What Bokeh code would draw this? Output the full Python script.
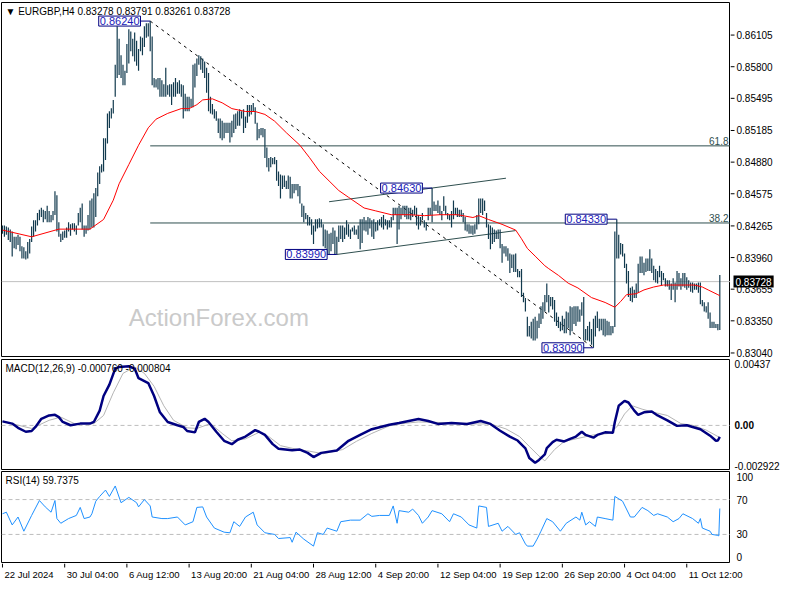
import numpy as np
from bokeh.plotting import figure
from bokeh.layouts import column, row
from bokeh.models import Range1d, Label, Span
from bokeh.embed import file_html
from bokeh.resources import INLINE
from bokeh.core.properties import value

# ---------------- data (prices in pips, 1 pip = 0.0001) ----------------
high_pips = [
    8427, 8427, 8426, 8425, 8423, 8421, 8416, 8416, 8418, 8416,
    8407, 8406, 8402, 8411, 8414, 8426, 8432, 8432, 8439, 8442,
    8444, 8442, 8441, 8446, 8441, 8437, 8441, 8460, 8456, 8430,
    8419, 8421, 8422, 8425, 8430, 8428, 8429, 8429, 8427, 8439,
    8444, 8448, 8427, 8427, 8437, 8451, 8453, 8458, 8463, 8478,
    8484, 8486, 8511, 8511, 8535, 8537, 8540, 8548, 8582, 8619,
    8607, 8591, 8582, 8576, 8602, 8616, 8614, 8607, 8613, 8605,
    8597, 8609, 8608, 8619, 8622, 8622, 8624, 8609, 8569, 8568,
    8569, 8569, 8567, 8563, 8579, 8562, 8563, 8563, 8565, 8569,
    8565, 8567, 8563, 8562, 8554, 8551, 8551, 8549, 8582, 8583,
    8588, 8591, 8590, 8588, 8585, 8579, 8574, 8551, 8544, 8539,
    8537, 8530, 8530, 8528, 8526, 8526, 8526, 8526, 8528, 8534,
    8535, 8537, 8539, 8537, 8539, 8532, 8543, 8543, 8543, 8545,
    8541, 8526, 8520, 8521, 8521, 8520, 8502, 8492, 8493, 8492,
    8493, 8490, 8479, 8476, 8475, 8475, 8470, 8475, 8474, 8467,
    8467, 8467, 8467, 8465, 8448, 8446, 8439, 8437, 8435, 8433,
    8427, 8433, 8433, 8434, 8433, 8428, 8423, 8422, 8419, 8420,
    8425, 8422, 8416, 8427, 8427, 8427, 8425, 8432, 8428, 8423,
    8425, 8427, 8423, 8427, 8433, 8433, 8435, 8432, 8435, 8434,
    8432, 8433, 8430, 8432, 8433, 8435, 8437, 8433, 8432, 8432,
    8435, 8444, 8444, 8444, 8446, 8444, 8446, 8446, 8446, 8444,
    8444, 8442, 8446, 8444, 8437, 8435, 8439, 8432, 8430, 8444,
    8444, 8463, 8450, 8447, 8451, 8446, 8441, 8455, 8446, 8439,
    8437, 8441, 8451, 8444, 8444, 8442, 8442, 8439, 8435, 8428,
    8428, 8427, 8427, 8428, 8437, 8453, 8453, 8453, 8451, 8439,
    8428, 8427, 8425, 8423, 8422, 8423, 8423, 8409, 8407, 8407,
    8405, 8400, 8399, 8399, 8400, 8385, 8383, 8385, 8362, 8357,
    8339, 8330, 8334, 8337, 8339, 8335, 8342, 8349, 8353, 8360,
    8371, 8360, 8358, 8358, 8355, 8343, 8339, 8334, 8340, 8337,
    8344, 8343, 8349, 8348, 8349, 8349, 8349, 8346, 8353, 8358,
    8327, 8330, 8334, 8327, 8337, 8340, 8344, 8337, 8337, 8337,
    8337, 8335, 8334, 8330, 8330, 8421, 8433, 8418, 8410, 8409,
    8400, 8390, 8383, 8367, 8368, 8365, 8371, 8390, 8397, 8397,
    8391, 8395, 8395, 8404, 8395, 8388, 8385, 8383, 8388, 8383,
    8381, 8376, 8374, 8374, 8371, 8376, 8372, 8383, 8381, 8376,
    8381, 8381, 8377, 8374, 8372, 8372, 8371, 8371, 8372, 8372,
    8355, 8353, 8349, 8353, 8343, 8334, 8334, 8332, 8332, 8379.1,
]
low_pips = [
    8419, 8416, 8418, 8413, 8411, 8397, 8405, 8404, 8408, 8402,
    8395, 8395, 8394, 8395, 8400, 8411, 8416, 8421, 8427, 8432,
    8435, 8430, 8433, 8430, 8430, 8430, 8432, 8437, 8421, 8416,
    8411, 8413, 8415, 8415, 8421, 8417, 8423, 8421, 8418, 8427,
    8430, 8423, 8416, 8419, 8422, 8423, 8425, 8425, 8435, 8455,
    8467, 8478, 8479, 8490, 8506, 8521, 8530, 8535, 8551, 8569,
    8572, 8569, 8562, 8562, 8574, 8583, 8595, 8590, 8585, 8581,
    8576, 8595, 8591, 8599, 8608, 8609, 8595, 8562, 8560, 8560,
    8558, 8551, 8551, 8551, 8551, 8553, 8551, 8543, 8551, 8551,
    8554, 8554, 8551, 8530, 8537, 8537, 8537, 8541, 8541, 8560,
    8571, 8582, 8577, 8574, 8569, 8555, 8537, 8535, 8534, 8530,
    8528, 8516, 8511, 8509, 8511, 8516, 8516, 8507, 8512, 8516,
    8520, 8523, 8523, 8530, 8516, 8521, 8526, 8532, 8534, 8537,
    8525, 8509, 8511, 8514, 8512, 8492, 8483, 8479, 8483, 8486,
    8486, 8470, 8465, 8453, 8462, 8464, 8462, 8462, 8453, 8453,
    8458, 8461, 8455, 8448, 8435, 8430, 8433, 8427, 8427, 8418,
    8409, 8421, 8424, 8425, 8425, 8407, 8405, 8399, 8399, 8402,
    8409, 8399, 8399, 8411, 8414, 8411, 8414, 8418, 8416, 8414,
    8421, 8418, 8418, 8414, 8404, 8410, 8422, 8421, 8418, 8424,
    8416, 8414, 8421, 8422, 8427, 8425, 8423, 8427, 8423, 8425,
    8425, 8432, 8437, 8409, 8423, 8433, 8437, 8435, 8433, 8433,
    8432, 8435, 8437, 8427, 8423, 8427, 8432, 8425, 8422, 8432,
    8437, 8430, 8441, 8441, 8439, 8437, 8432, 8441, 8437, 8433,
    8432, 8425, 8433, 8437, 8435, 8435, 8435, 8430, 8422, 8421,
    8419, 8419, 8418, 8419, 8423, 8428, 8439, 8437, 8441, 8425,
    8414, 8404, 8409, 8411, 8414, 8414, 8405, 8391, 8400, 8397,
    8393, 8381, 8386, 8382, 8382, 8377, 8377, 8358, 8353, 8344,
    8320, 8320, 8318, 8316, 8316, 8318, 8328, 8332, 8337, 8344,
    8353, 8343, 8349, 8346, 8334, 8330, 8328, 8325, 8326, 8323,
    8323, 8328, 8321, 8325, 8332, 8330, 8334, 8334, 8340, 8316,
    8316, 8316, 8315, 8312, 8309, 8320, 8328, 8325, 8326, 8321,
    8320, 8321, 8321, 8321, 8323, 8329, 8395, 8395, 8399, 8397,
    8386, 8371, 8358, 8354, 8353, 8357, 8357, 8362, 8381, 8381,
    8379, 8382, 8383, 8383, 8381, 8374, 8372, 8371, 8377, 8369,
    8374, 8368, 8368, 8365, 8355, 8365, 8353, 8365, 8368, 8365,
    8368, 8367, 8365, 8367, 8363, 8362, 8365, 8365, 8362, 8351,
    8349, 8344, 8343, 8337, 8328, 8328, 8328, 8328, 8326, 8326.1,
]
last_ohlc = [0.83278, 0.83791, 0.83261, 0.83728]

ma_bar = [0, 15, 29, 45, 52, 57, 60, 65, 70, 75, 79, 85, 92, 96, 100, 103, 108, 113,
          118, 125, 130, 135, 140, 146, 153, 158, 163, 168, 173, 178, 186, 192, 200,
          209, 217, 225, 234, 242, 245, 250, 257, 264, 267, 270, 274, 279, 281, 286,
          291, 296, 303, 310, 315, 318, 321, 326, 330, 335, 340, 348, 356, 360, 363,
          368, 369]
ma_pips = [8422.5, 8416, 8423.4, 8423.4, 8432.7, 8451.3, 8467.1, 8485.7, 8504.3,
           8521.1, 8529.4, 8535, 8539.6, 8539.6, 8543.4, 8548, 8549, 8545.2, 8539.6,
           8536.8, 8536.8, 8534, 8527.5, 8516.4, 8504.3, 8492.2, 8479.2, 8469.9,
           8460.6, 8454.1, 8443.8, 8441, 8437.3, 8437.3, 8436.4, 8437.3, 8437.3,
           8434.6, 8436.4, 8432.7, 8428, 8422.5, 8414.1, 8404.8, 8397.4, 8388.1,
           8385.3, 8378.8, 8371.3, 8366.7, 8357.4, 8352.7, 8348.1, 8353.6, 8360.2,
           8361.1, 8364.8, 8367.6, 8369.5, 8369.5, 8369.5, 8367.6, 8364.8, 8360.2,
           8359.2]

macd_bar = [0, 5, 8, 12, 15, 17, 20, 24, 27, 29, 31, 35, 40, 45, 47, 50, 52, 55, 58,
            60, 65, 68, 70, 75, 78, 81, 85, 90, 93, 95, 99, 101, 104, 106, 110, 114,
            118, 121, 125, 130, 132, 135, 139, 142, 149, 153, 157, 160, 164, 172, 178,
            184, 190, 199, 204, 209, 214, 219, 224, 231, 239, 246, 251, 256, 261, 265,
            269, 271, 274, 276, 279, 280, 283, 285, 289, 292, 295, 298, 300, 304, 306,
            310, 314, 315, 317, 320, 322, 325, 327, 330, 334, 337, 342, 347, 352, 355,
            359, 364, 367, 368, 369]
macd_val = [0.00027, 0.00012, -0.00016, -0.00042, -0.00037, -0.0001, 0.00044, 0.00066,
            0.0007, 0.00055, 0.00023, 0.00001, 0.00012, 0.00012, 0.00023, 0.00098,
            0.00195, 0.0027, 0.00377, 0.00388, 0.00392, 0.00377, 0.00313, 0.00281,
            0.00195, 0.00087, 0.00023, 0.00001, -0.0001, -0.00037, -0.00046, 0.00023,
            0.00044, 0.00023, -0.00042, -0.00102, -0.00124, -0.00095, -0.00074,
            -0.00031, -0.00042, -0.00063, -0.00124, -0.00154, -0.00164, -0.0016,
            -0.00182, -0.0021, -0.00182, -0.00166, -0.00102, -0.00063, -0.00025,
            0.00005, 0.00016, 0.00029, 0.00042, 0.00029, 0.0001, 0.00016, 0.0001,
            0.00029, 0.0001, -0.00035, -0.00074, -0.001, -0.00152, -0.00216, -0.00248,
            -0.00229, -0.00192, -0.0015, -0.00111, -0.00095, -0.00106, -0.00089,
            -0.00074, -0.00042, -0.00063, -0.00081, -0.00063, -0.00046, -0.00048,
            0.00023, 0.0013, 0.00163, 0.00152, 0.00098, 0.0007, 0.00087, 0.00092,
            0.00066, 0.00034, -0.00003, 0.00001, -0.0001, -0.00025, -0.00068, -0.00102,
            -0.001, -0.00076]
signal_bar = [0, 15, 24, 30, 37, 47, 52, 57, 62, 68, 73, 78, 83, 88, 95, 100, 107, 113,
              118, 125, 132, 137, 143, 152, 158, 165, 175, 182, 190, 199, 204, 214, 224,
              234, 244, 251, 259, 266, 271, 276, 279, 284, 289, 295, 304, 312, 316, 320,
              324, 329, 335, 342, 349, 355, 362, 369]
signal_val = [0.00027, -0.0002, 0.00034, 0.00055, 0.00012, 0.00012, 0.00066, 0.00216,
              0.00345, 0.00388, 0.00345, 0.00259, 0.0013, 0.00034, -0.00016, -0.0002,
              0.00012, -0.00053, -0.00102, -0.00089, -0.00046, -0.00074, -0.00134,
              -0.0016, -0.00171, -0.00188, -0.0016, -0.00106, -0.00053, -0.00003, 0.0001,
              0.00023, 0.0002, 0.0001, 0.0001, 0.0001, -0.00023, -0.00074, -0.00139,
              -0.00203, -0.00235, -0.0016, -0.00106, -0.00089, -0.00063, -0.00053,
              -0.0001, 0.00076, 0.0013, 0.00108, 0.00087, 0.00066, 0.00012, 0.00001,
              -0.00031, -0.000804]
macd_last = [-0.000760, -0.000804]

rsi_bar = [0, 2, 5, 8, 11, 15, 19, 22, 25, 27, 28, 30, 34, 38, 40, 42, 45, 46, 48, 50,
           53, 55, 58, 61, 65, 69, 70, 73, 76, 77, 82, 85, 90, 94, 98, 100, 103, 105,
           109, 114, 117, 119, 122, 125, 129, 131, 135, 140, 142, 148, 149, 151, 155,
           160, 162, 165, 167, 172, 174, 179, 184, 188, 190, 194, 199, 201, 203, 204,
           209, 211, 214, 216, 219, 221, 226, 230, 232, 236, 240, 244, 245, 249, 250,
           255, 257, 260, 264, 266, 269, 270, 273, 275, 277, 280, 283, 287, 290, 295,
           297, 298, 300, 302, 305, 306, 310, 314, 315, 319, 323, 325, 329, 332, 335,
           337, 342, 345, 348, 350, 355, 358, 359, 360, 364, 365, 368, 368.5, 369]
rsi_val = [53.7, 55.5, 40.9, 50, 33.7, 51.8, 68.9, 61.6, 55.5, 68.9, 48.2, 42.8, 48.2,
           51.8, 61, 48.2, 50, 53.7, 68.1, 73.6, 80.9, 73.6, 85.6, 66.4, 72.5, 66.4,
           61.6, 70, 62.7, 50, 48.2, 48.2, 50, 40.9, 44.6, 61, 61.6, 50, 37.3, 32.6,
           31.9, 44.6, 39.2, 50, 55.5, 40.9, 31.9, 30, 25.3, 26.4, 21, 32.6, 24.6, 16.6,
           31.9, 30, 37.3, 33.7, 44.6, 46.4, 46.4, 53.7, 50.7, 51.8, 51.8, 62.7, 42.8,
           57.3, 55.5, 59.1, 51.8, 42.8, 50, 57.3, 53.7, 44.6, 53.7, 50, 40.9, 37.3,
           62.7, 61, 39.2, 42.8, 33.7, 39.2, 30, 31.9, 19.1, 16.6, 16.6, 24.6, 33.7,
           48.2, 44.6, 33.7, 42.8, 50, 46.4, 55.5, 40.9, 44.6, 39.2, 50, 48.2, 46.4,
           73.6, 68.1, 50, 50, 61, 57.3, 51.8, 53.7, 50, 44.6, 48.2, 53.7, 48.2, 42.8,
           48.2, 37.3, 33.7, 30, 28.9, 28.3, 59.7375]

pivot_bar = [76, 172, 221, 304, 316]
pivot_val = [0.86240, 0.83990, 0.84630, 0.83090, 0.84330]
fib_ratios = [61.8, 38.2]
channel_lower = [(172, 0.83990), (264, 0.84220)]
channel_upper = [(168, 0.84498), (259, 0.84725)]
price_ticks = [0.86105, 0.85800, 0.85495, 0.85185, 0.84880, 0.84575, 0.84265,
               0.83960, 0.83655, 0.83350, 0.83040]
macd_scale = [0.00437, 0.0, -0.002922]          # top, zero, bottom of the MACD window
macd_scale_labels = ["0.00437", "0.00", "-0.002922"]
rsi_ticks = [100, 70, 30, 0]
date_bar = [0, 32, 64, 96, 128, 160, 192, 224, 256, 288, 320, 352]
date_labels = ["22 Jul 2024", "30 Jul 04:00", "6 Aug 12:00", "13 Aug 20:00",
               "21 Aug 04:00", "28 Aug 12:00", "4 Sep 20:00", "12 Sep 04:00",
               "19 Sep 12:00", "26 Sep 20:00", "4 Oct 04:00", "11 Oct 12:00"]

# ---------------- derived ----------------
high = np.array(high_pips) / 10000.0
low = np.array(low_pips) / 10000.0
bars = np.arange(len(high))
ma = np.array(ma_pips) / 10000.0

FONT = "Liberation Sans"
BAR_C = "#123a4e"
SLATE = "#2f4f4f"
X0, X1 = -0.5, 374.5
xr = Range1d(X0, X1)
W_AX = 54
W_MAIN = 784 - W_AX
BL = 1
FRAME_W = W_MAIN - BL

P_LO, P_HI = 0.83006, 0.86419
M_LO, M_HI = -0.002922, 0.00437
R_LO, R_HI = -2.2, 102.2

H1, T1, B1 = 358, 2, 2
H2, T2, B2 = 112, 1, 1
H3, T3, B3 = 93, 1, 1


def make_fig(h, yr, top, bottom):
    p = figure(width=W_MAIN, height=h, x_range=xr, y_range=yr, output_backend="svg",
               toolbar_location=None, y_axis_location=None, x_axis_location=None,
               min_border_left=BL, min_border_right=0, min_border_top=top,
               min_border_bottom=bottom)
    p.grid.visible = False
    p.outline_line_color = "black"
    p.outline_line_width = 1
    p.background_fill_color = "white"
    p.border_fill_color = "white"
    return p


def scale_fig(h, lo, hi, top, bottom):
    # price-scale column: same vertical scale as its panel, frame covering the whole column
    frame_h = h - top - bottom
    per_px = (hi - lo) / frame_h
    a = figure(width=W_AX, height=h, x_range=Range1d(0, W_AX),
               y_range=Range1d(lo - bottom * per_px, hi + top * per_px),
               output_backend="svg", toolbar_location=None, x_axis_location=None,
               y_axis_location=None, min_border_left=0, min_border_right=0,
               min_border_top=0, min_border_bottom=0)
    a.grid.visible = False
    a.outline_line_color = None
    a.background_fill_color = "white"
    a.border_fill_color = "white"
    return a


def scale_label(a, x, y, text, baseline, style="normal"):
    a.add_layout(Label(x=x, y=y, text=text, text_align="left", text_baseline=baseline,
                       text_font=FONT, text_font_size="10px", text_color="black",
                       text_font_style=style))


# ---------------- main price panel ----------------
ph, pl = pivot_val[0], pivot_val[3]
p1 = make_fig(H1, Range1d(P_LO, P_HI), T1, B1)

p1.add_layout(Span(location=last_ohlc[3], dimension="width", line_color="#c0c0c0",
                   line_width=1, level="underlay"))

for r in fib_ratios:
    lvl = pl + r / 100.0 * (ph - pl)
    p1.segment(x0=[pivot_bar[0]], y0=[lvl], x1=[X1], y1=[lvl], line_color=SLATE, line_width=1)
    p1.add_layout(Label(x=X1, y=lvl, text=f"{r:.1f}", text_align="right",
                        text_baseline="bottom", x_offset=-2, y_offset=1,
                        text_font=FONT, text_font_size="10px", text_color=SLATE))

for seg in (channel_lower, channel_upper):
    p1.line([seg[0][0], seg[1][0]], [seg[0][1], seg[1][1]], line_color=SLATE, line_width=1)

p1.line([pivot_bar[0], pivot_bar[3]], [ph, pl], line_color="black", line_width=1,
        line_dash="3 4")

p1.segment(x0=bars, y0=low, x1=bars, y1=high, line_color=BAR_C, line_width=1.2)
p1.line(ma_bar, ma, line_color="#ff0000", line_width=1)

for b, v in zip(pivot_bar, pivot_val):
    p1.segment(x0=[b - 5], y0=[v], x1=[b], y1=[v], line_color="#000080", line_width=1)
    p1.add_layout(Label(x=b - 5, y=v, text=f"{v:.5f}", text_align="right",
                        text_baseline="middle", text_font=FONT, text_font_size="11px",
                        text_color="#2020b8", background_fill_color="white",
                        border_line_color="#000080", border_line_width=1, padding=1))

p1.add_layout(Label(x=X0, y=P_HI, x_offset=4, y_offset=-3, text_baseline="top",
                    text="\u25bc EURGBP,H4  " + " ".join(f"{v:.5f}" for v in last_ohlc),
                    text_font=FONT, text_font_size="10px", text_color="black"))
p1.add_layout(Label(x=65, y=0.83378, text="ActionForex.com", text_baseline="middle",
                    text_font=FONT, text_font_size="24px", text_color="#cacaca"))

a1 = scale_fig(H1, P_LO, P_HI, T1, B1)
a1.segment(x0=[0] * len(price_ticks), y0=price_ticks, x1=[4] * len(price_ticks),
           y1=price_ticks, line_color="black", line_width=1)
a1.text(x=[6] * len(price_ticks), y=price_ticks, text=[f"{t:.5f}" for t in price_ticks],
        text_align="left", text_baseline="middle", text_font=value(FONT),
        text_font_size="10px", text_color="black")
a1.add_layout(Label(x=1, y=last_ohlc[3], text=f"{last_ohlc[3]:.5f}", x_offset=2,
                    text_align="left", text_baseline="middle", text_font=FONT,
                    text_font_size="10px", text_color="white",
                    background_fill_color="black", padding=2))

# ---------------- MACD panel ----------------
p2 = make_fig(H2, Range1d(M_LO, M_HI), T2, B2)
p2.add_layout(Span(location=0.0, dimension="width", line_color="#bdbdbd",
                   line_dash="4 3", line_width=1, level="underlay"))
p2.line(signal_bar, signal_val, line_color="#b4b4b4", line_width=1)
p2.line(macd_bar, macd_val, line_color="#000080", line_width=2.5)
p2.add_layout(Label(x=X0, y=M_HI, x_offset=4, y_offset=-3, text_baseline="top",
                    text=f"MACD(12,26,9) {macd_last[0]:.6f} {macd_last[1]:.6f}",
                    text_font=FONT, text_font_size="10px", text_color="black"))

a2 = scale_fig(H2, M_LO, M_HI, T2, B2)
scale_label(a2, 4, macd_scale[0], macd_scale_labels[0], "top")
scale_label(a2, 4, macd_scale[1], macd_scale_labels[1], "middle", "bold")
scale_label(a2, 4, macd_scale[2], macd_scale_labels[2], "bottom")

# ---------------- RSI panel ----------------
p3 = make_fig(H3, Range1d(R_LO, R_HI), T3, B3)
for lv in rsi_ticks[1:3]:
    p3.add_layout(Span(location=lv, dimension="width", line_color="#bdbdbd",
                       line_dash="4 3", line_width=1, level="underlay"))
p3.line(rsi_bar, rsi_val, line_color="#1e90ff", line_width=1)
p3.add_layout(Label(x=X0, y=R_HI, x_offset=4, y_offset=-3, text_baseline="top",
                    text=f"RSI(14) {rsi_val[-1]:.4f}", text_font=FONT,
                    text_font_size="10px", text_color="black"))

a3 = scale_fig(H3, R_LO, R_HI, T3, B3)
for t, bl in zip(rsi_ticks, ["top", "middle", "middle", "bottom"]):
    scale_label(a3, 6, t, str(t), bl)

# ---------------- time scale strip (same x scale, extends under the price scale) ----------------
units_per_px = (X1 - X0) / FRAME_W
p4 = figure(width=784, height=21, x_range=Range1d(X0, X0 + (784 - BL) * units_per_px),
            y_range=Range1d(0, 21), output_backend="svg", toolbar_location=None,
            x_axis_location=None, y_axis_location=None, min_border_left=BL,
            min_border_right=0, min_border_top=0, min_border_bottom=0)
p4.grid.visible = False
p4.outline_line_color = None
p4.background_fill_color = "white"
p4.border_fill_color = "white"
p4.segment(x0=date_bar, y0=[21] * len(date_bar), x1=date_bar, y1=[17] * len(date_bar),
           line_color="black", line_width=1)
p4.text(x=date_bar, y=[16] * len(date_bar), text=date_labels, x_offset=2,
        text_align="left", text_baseline="top", text_font=value(FONT),
        text_font_size="9.5px", text_color="black")

layout = column(row(column(p1, p2, p3, spacing=0), column(a1, a2, a3, spacing=0), spacing=0),
                p4, spacing=0)
open("out.html", "w").write(file_html(layout, INLINE))
